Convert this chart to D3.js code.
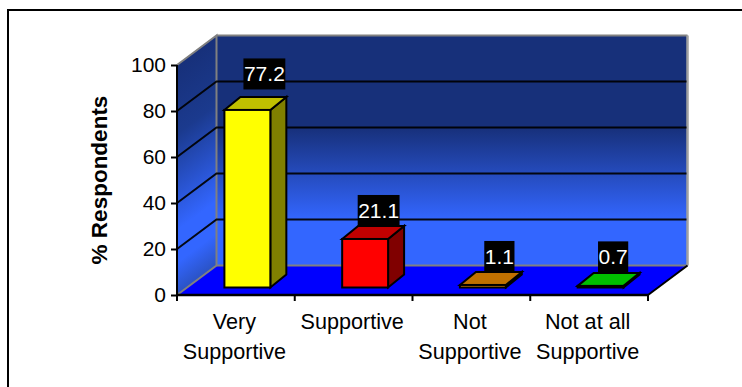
<!DOCTYPE html>
<html>
<head>
<meta charset="utf-8">
<script src="https://cdn.jsdelivr.net/npm/d3@7"></script>
<style>
  html, body { margin: 0; padding: 0; background: #fff; }
  svg { display: block; }
  text { font-family: "Liberation Sans", Arial, sans-serif; fill: #000; }
</style>
</head>
<body>
<svg id="chart" width="742" height="387"></svg>
<script>
// Survey results
const categories = ["Very Supportive", "Supportive", "Not Supportive", "Not at all Supportive"];
const categoryLines = [["Very", "Supportive"], ["Supportive"], ["Not", "Supportive"], ["Not at all", "Supportive"]];
const values = [77.2, 21.1, 1.1, 0.7];
const yTicks = [0, 20, 40, 60, 80, 100];
const axisTitle = "% Respondents";
const frontColors = ["#ffff00", "#ff0000", "#ff9900", "#00ff00"];
const topColors = ["#c0c000", "#c00000", "#c07000", "#00c000"];
const sideColors = ["#808000", "#800000", "#805000", "#008000"];

const svg = d3.select("#chart");
const W = 742, H = 387;

// Chart frame: only the top and left edges fall inside the canvas
svg.append("path").attr("d", `M8,${H}V10H${W}`).attr("fill", "none").attr("stroke", "#000").attr("stroke-width", 2);

const x = d3.scaleBand().domain(categories).range([177, 648]).paddingInner(0.61).paddingOuter(0.305);
const xOuter = d3.scaleBand().domain(categories).range([177, 648]);
const y = d3.scaleLinear().domain([0, 100]).range([295, 65]);

// Oblique depth of the plot box and of the columns standing in it
const depthX = 39.5, depthY = 29.5;
const barInsetX = 11.5, barInsetY = 7.5;
const barDepthX = 16, barDepthY = 13;

const x0 = x.range()[0], x1 = x.range()[1];
const y0 = y(0), y100 = y(100);

const defs = svg.append("defs");
function wallGradient(id, x1g, y1g, x2g, y2g, stops) {
  const g = defs.append("linearGradient").attr("id", id).attr("gradientUnits", "userSpaceOnUse")
    .attr("x1", x1g).attr("y1", y1g).attr("x2", x2g).attr("y2", y2g);
  stops.forEach(s => g.append("stop").attr("offset", s[0]).attr("stop-color", s[1]));
}
const backTop = y100 - depthY, backBottom = y0 - depthY;
wallGradient("backWall", 0, backTop, 0, backBottom, [[0, "#17307a"], [0.40, "#17307a"], [0.80, "#3366ff"], [1, "#3366ff"]]);
wallGradient("sideWall", 0, y100 + (x0 * depthY / depthX) * 0, 0, y0, [[0, "#17307a"], [0.30, "#1b3a8e"], [0.72, "#3366ff"], [0.86, "#3366ff"], [1, "#2a52c4"]]);

// Back wall
svg.append("rect").attr("x", x0 + depthX).attr("y", backTop).attr("width", x1 - x0).attr("height", y0 - y100)
  .attr("fill", "url(#backWall)");

// Side wall: a vertical gradient sheared along the depth direction
svg.append("g").attr("transform", `matrix(1,${-depthY / depthX},0,1,0,${depthY / depthX * x0})`)
  .append("rect").attr("x", x0).attr("y", y100).attr("width", depthX).attr("height", y0 - y100)
  .attr("fill", "url(#sideWall)");

// Floor
svg.append("path")
  .attr("d", `M${x0},${y0}L${x0 + depthX},${backBottom}H${x1 + depthX}L${x1},${y0}Z`)
  .attr("fill", "#0000ff");

// Wall edges
svg.append("path")
  .attr("d", `M${x0},${y0}L${x0 + depthX},${backBottom}V${backTop}L${x0},${y100}M${x0 + depthX},${backTop}H${x1 + depthX}`)
  .attr("fill", "none").attr("stroke", "#808080").attr("stroke-width", 2);
svg.append("path")
  .attr("d", `M${x0 + depthX},${backBottom}H${x1 + depthX}`)
  .attr("fill", "none").attr("stroke", "#808080").attr("stroke-width", 2);
svg.append("path")
  .attr("d", `M${x1 + depthX},${backTop}V${backBottom}`)
  .attr("fill", "none").attr("stroke", "#a0a0a0").attr("stroke-width", 2.5);

// Gridlines run along the side wall and then across the back wall
svg.append("g").selectAll("path").data(yTicks.filter(t => t > 0 && t < 100)).join("path")
  .attr("d", t => `M${x0},${y(t)}L${x0 + depthX},${y(t) - depthY}H${x1 + depthX - 1}`)
  .attr("fill", "none").attr("stroke", "#000").attr("stroke-width", 2).attr("stroke-opacity", 0.92);

// Right edge of the floor
svg.append("path").attr("d", `M${x1},${y0}L${x1 + depthX},${backBottom}`)
  .attr("fill", "none").attr("stroke", "#000").attr("stroke-width", 2);

// Axes
const yAxis = d3.axisLeft(y).tickValues(yTicks).tickSize(6).tickPadding(5);
const gy = svg.append("g").attr("transform", `translate(${x0},0)`).call(yAxis);
gy.selectAll("path,line").attr("stroke", "#000").attr("stroke-width", 2);
gy.select(".domain").attr("d", `M0,${y100}V${y0 + 5}`);
gy.selectAll("text").style("font-size", "21px").style("font-family", '"Liberation Sans", Arial, sans-serif').attr("fill", "#000");

const gx = svg.append("g").attr("transform", `translate(0,${y0})`)
  .call(d3.axisBottom(xOuter).tickValues([]).tickSizeOuter(0));
gx.select(".domain").attr("d", `M${x0},0H${x1}`).attr("stroke", "#000").attr("stroke-width", 2.5);
gx.selectAll("line.boundary").data(d3.range(categories.length + 1)).join("line")
  .attr("class", "boundary")
  .attr("x1", i => x0 + i * xOuter.step()).attr("x2", i => x0 + i * xOuter.step())
  .attr("y1", 0).attr("y2", 6).attr("stroke", "#000").attr("stroke-width", 2);

// Category labels, wrapped on two lines
const labelG = svg.append("g");
categoryLines.forEach((lines, i) => {
  const t = labelG.append("text").attr("text-anchor", "middle").style("font-size", "21.6px")
    .attr("x", xOuter(categories[i]) + xOuter.bandwidth() / 2 - 1.5).attr("y", 329);
  lines.forEach((line, j) => {
    t.append("tspan").attr("x", t.attr("x")).attr("y", 329 + j * 30).text(line);
  });
});

// Value axis title
svg.append("text").attr("transform", "translate(107,180) rotate(-90)")
  .attr("text-anchor", "middle").style("font-size", "22.5px").style("font-weight", "bold").text(axisTitle);

// Columns: side, top, then front face
const bars = svg.append("g").selectAll("g").data(values).join("g")
  .attr("stroke", "#000").attr("stroke-width", 2).attr("stroke-linejoin", "miter");
const left = i => x(categories[i]) + barInsetX;
const right = i => left(i) + x.bandwidth();
const base = y0 - barInsetY;
const topY = v => y(v) - barInsetY;

bars.append("path").attr("fill", (d, i) => sideColors[i])
  .attr("d", (d, i) => `M${right(i)},${topY(d)}l${barDepthX},${-barDepthY}V${base - barDepthY}L${right(i)},${base}Z`);
bars.append("path").attr("fill", (d, i) => topColors[i])
  .attr("d", (d, i) => `M${left(i)},${topY(d)}l${barDepthX},${-barDepthY}H${right(i) + barDepthX}L${right(i)},${topY(d)}Z`);
bars.append("rect").attr("fill", (d, i) => frontColors[i])
  .attr("x", (d, i) => left(i)).attr("y", d => topY(d))
  .attr("width", x.bandwidth()).attr("height", d => base - topY(d));

// Value labels: white on black boxes, with small hand placement per column
const labelShiftX = [17, 13.5, 16.5, 12.5];
const labelShiftY = [-43.5, -36, -36, -36.5];
const valueLabels = svg.append("g").selectAll("g").data(values).join("g")
  .attr("transform", (d, i) => `translate(${left(i) + x.bandwidth() / 2 + labelShiftX[i]},${y(d) + labelShiftY[i]})`);
const valueText = valueLabels.append("text").attr("text-anchor", "middle").attr("y", 7.5)
  .style("font-size", "21px").style("fill", "#fff").text(d => d);
valueLabels.insert("rect", "text")
  .attr("x", function (d, i) { return -(valueText.nodes()[i].getComputedTextLength() + 1) / 2; })
  .attr("width", function (d, i) { return valueText.nodes()[i].getComputedTextLength() + 1; })
  .attr("y", -15.5).attr("height", 31).attr("fill", "#000");
</script>
</body>
</html>
